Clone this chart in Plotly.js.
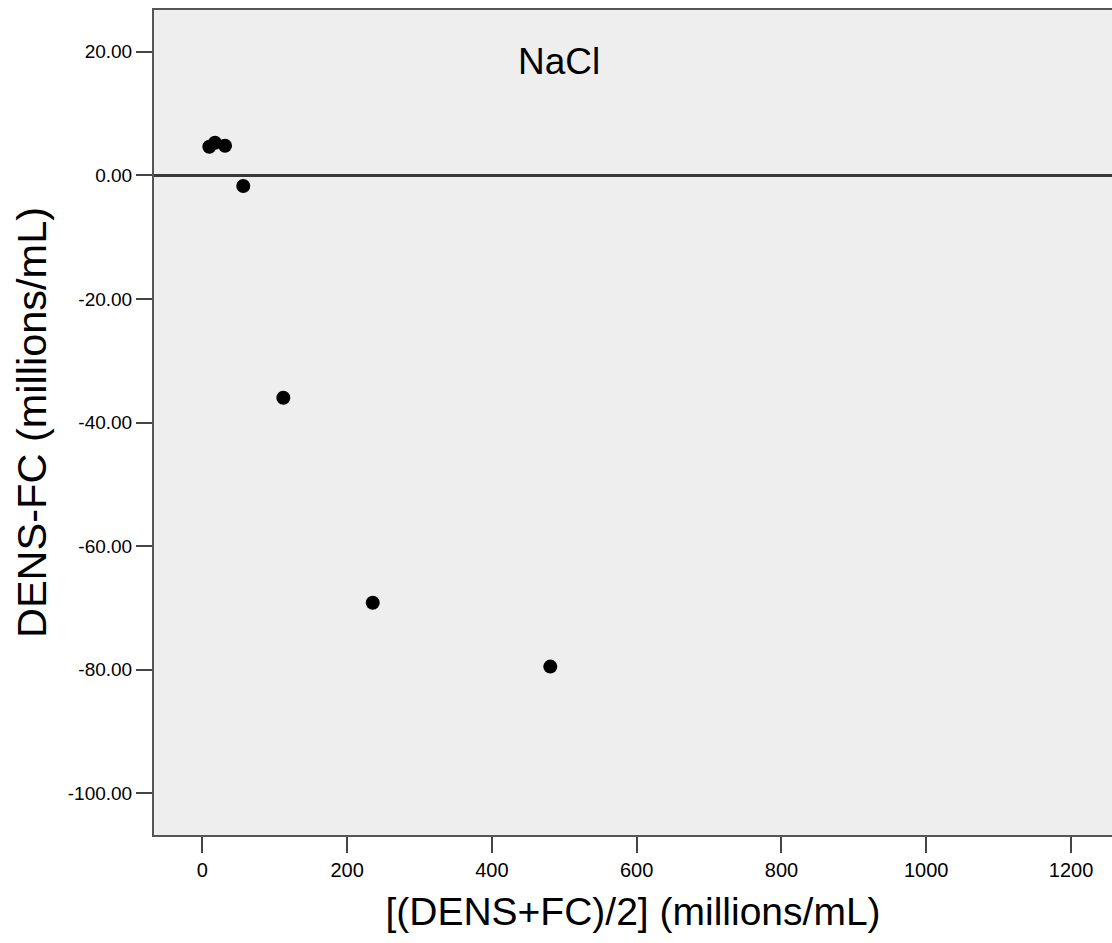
<!DOCTYPE html>
<html>
<head>
<meta charset="utf-8">
<script src="https://cdn.plot.ly/plotly-3.0.1.min.js"></script>
<style>html,body{margin:0;padding:0;background:#fff;}#chart{width:1112px;height:943px;}</style>
</head>
<body>
<div id="chart"></div>
<script>
// Data
const meanValues = [9.7, 17.5, 31.4, 56.6, 111.9, 235.4, 480.7];   // [(DENS+FC)/2]
const diffValues = [4.63, 5.27, 4.79, -1.73, -35.99, -69.16, -79.5]; // DENS-FC
const xTickVals = [0, 200, 400, 600, 800, 1000, 1200];
const yTickVals = [20, 0, -20, -40, -60, -80, -100];
const yTickText = ["20.00", "0.00", "-20.00", "-40.00", "-60.00", "-80.00", "-100.00"];
const panelLabel = "NaCl";

const font = "Liberation Sans, Arial, sans-serif";

const trace = {
  type: "scatter",
  mode: "markers",
  x: meanValues,
  y: diffValues,
  marker: {color: "#000000", size: 14, line: {width: 0}},
  hoverinfo: "x+y"
};

const layout = {
  width: 1112,
  height: 943,
  margin: {l: 154, r: 0, t: 10, b: 108},
  paper_bgcolor: "#ffffff",
  plot_bgcolor: "#eeeeee",
  showlegend: false,
  font: {family: font, color: "#000000"},
  xaxis: {
    range: [-66.72, 1256.6],
    tickvals: xTickVals,
    ticktext: xTickVals.map(String),
    ticks: "outside",
    ticklen: 16,
    tickwidth: 2,
    tickcolor: "#444444",
    tickfont: {size: 20, family: font, color: "#000000"},
    showgrid: false,
    zeroline: false,
    showline: true,
    linecolor: "#555555",
    linewidth: 2,
    mirror: true,
    title: {text: "[(DENS+FC)/2] (millions/mL)", font: {size: 39, family: font, color: "#000000"}, standoff: 18}
  },
  yaxis: {
    range: [-106.75, 26.75],
    tickvals: yTickVals,
    ticktext: yTickText,
    ticks: "outside",
    ticklen: 16,
    tickwidth: 2,
    tickcolor: "#444444",
    tickfont: {size: 19, family: font, color: "#000000"},
    showgrid: false,
    zeroline: true,
    zerolinecolor: "#3a3a3a",
    zerolinewidth: 2.5,
    showline: true,
    linecolor: "#555555",
    linewidth: 2,
    mirror: false,
    title: {text: "DENS-FC (millions/mL)", font: {size: 41.5, family: font, color: "#000000"}, standoff: 8}
  },
  annotations: [{
    text: panelLabel,
    xref: "paper", yref: "paper",
    x: 0.4228, y: 0.9376,
    xanchor: "center", yanchor: "middle",
    showarrow: false,
    font: {size: 37, family: font, color: "#000000"}
  }]
};

Plotly.newPlot("chart", [trace], layout, {displayModeBar: false, staticPlot: true});
</script>
</body>
</html>
